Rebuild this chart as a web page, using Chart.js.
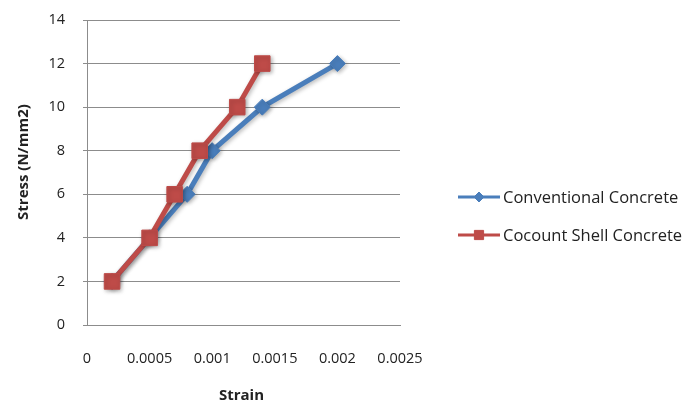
<!DOCTYPE html>
<html>
<head>
<meta charset="utf-8">
<script src="https://cdn.jsdelivr.net/npm/chart.js@4"></script>
<style>
  html, body { margin: 0; padding: 0; background: #ffffff; }
  #wrap { width: 691px; height: 405px; }
</style>
</head>
<body>
<div id="wrap"><canvas id="c" width="691" height="405"></canvas></div>
<script>
// Stress–strain data for the two concrete mixes
const seriesNames = ['Conventional Concrete', 'Cocount Shell Concrete'];
const conventionalStrain = [0.0002, 0.0005, 0.0008, 0.001, 0.0014, 0.002];
const conventionalStress = [2, 4, 6, 8, 10, 12];
const shellStrain = [0.0002, 0.0005, 0.0007, 0.0009, 0.0012, 0.0014];
const shellStress = [2, 4, 6, 8, 10, 12];
const xTicks = [0, 0.0005, 0.001, 0.0015, 0.002, 0.0025];
const yTicks = [0, 2, 4, 6, 8, 10, 12, 14];
const xTitle = 'Strain';
const yTitle = 'Stress (N/mm2)';

const BLUE = '#4a7ebb';
const RED = '#be4b48';
const FONT = '"Open Sans", Lato, sans-serif';

const toPoints = (xs, ys) => xs.map((x, i) => ({ x: x, y: ys[i] }));

// Soft drop shadow under lines and markers
const shadowPlugin = {
  id: 'markShadow',
  beforeDatasetsDraw(chart) {
    const ctx = chart.ctx;
    ctx.save();
    ctx.shadowColor = 'rgba(0,0,0,0.28)';
    ctx.shadowBlur = 4;
    ctx.shadowOffsetX = 1.5;
    ctx.shadowOffsetY = 1.5;
  },
  afterDatasetsDraw(chart) {
    chart.ctx.restore();
  }
};

// Axis titles and the legend on the right
const decorPlugin = {
  id: 'decor',
  afterDraw(chart) {
    const ctx = chart.ctx;
    const area = chart.chartArea;
    ctx.save();
    ctx.fillStyle = '#222';
    ctx.font = 'bold 15px ' + FONT;
    ctx.textAlign = 'center';
    ctx.textBaseline = 'middle';
    ctx.fillText(xTitle, (area.left + area.right) / 2 - 2, 396);
    ctx.translate(24, 162);
    ctx.rotate(-Math.PI / 2);
    ctx.fillText(yTitle, 0, 0);
    ctx.restore();

    // legend rows, in series order
    const rows = [197, 235];
    const legendDatasets = [chart.data.datasets[1], chart.data.datasets[0]];
    legendDatasets.forEach((ds, i) => {
      const y = rows[i];
      ctx.save();
      ctx.strokeStyle = ds.borderColor;
      ctx.lineWidth = 3;
      ctx.beginPath();
      ctx.moveTo(458, y);
      ctx.lineTo(500, y);
      ctx.stroke();
      ctx.fillStyle = ds.backgroundColor;
      ctx.strokeStyle = ds.borderColor;
      ctx.lineWidth = 1;
      Chart.helpers.drawPoint(ctx, {
        pointStyle: ds.pointStyle,
        radius: ds.pointStyle === 'rect' ? 6.5 : 5,
        rotation: 0,
        borderWidth: 1
      }, 479, y);
      ctx.fillStyle = '#222';
      ctx.font = '16.5px ' + FONT;
      ctx.textAlign = 'left';
      ctx.textBaseline = 'middle';
      ctx.fillText(ds.label, 503, y + 1);
      ctx.restore();
    });
  }
};

new Chart(document.getElementById('c'), {
  type: 'line',
  data: {
    datasets: [
      {
        label: seriesNames[1],
        data: toPoints(shellStrain, shellStress),
        borderColor: RED,
        backgroundColor: RED,
        borderWidth: 5,
        pointStyle: 'rect',
        pointRadius: 11,
        pointBorderWidth: 1,
        tension: 0,
        order: 0
      },
      {
        label: seriesNames[0],
        data: toPoints(conventionalStrain, conventionalStress),
        borderColor: BLUE,
        backgroundColor: BLUE,
        borderWidth: 5,
        pointStyle: 'rectRot',
        pointRadius: 8,
        pointBorderWidth: 1,
        tension: 0,
        order: 1
      }
    ]
  },
  options: {
    responsive: false,
    animation: false,
    layout: { autoPadding: false, padding: { left: 0, top: 20, right: 291, bottom: 0 } },
    plugins: {
      legend: { display: false },
      tooltip: { enabled: false }
    },
    scales: {
      x: {
        type: 'linear',
        min: 0,
        max: 0.0025,
        afterBuildTicks: (s) => { s.ticks = xTicks.map(v => ({ value: v })); },
        afterFit: (s) => { s.height = 80; },
        grid: { display: false, drawTicks: false },
        border: { display: true, color: '#8c8c8c', width: 1 },
        ticks: {
          padding: 25,
          color: '#222',
          font: { family: FONT, size: 14.5 },
          maxRotation: 0,
          callback: (v) => String(v)
        }
      },
      y: {
        type: 'linear',
        min: 0,
        max: 14,
        afterBuildTicks: (s) => { s.ticks = yTicks.map(v => ({ value: v })); },
        afterFit: (s) => { s.width = 87; s.paddingTop = 0; s.paddingBottom = 0; },
        grid: { color: '#8c8c8c', lineWidth: 1, drawTicks: true, tickLength: 4 },
        border: { display: true, color: '#8c8c8c', width: 1 },
        ticks: {
          padding: 18,
          color: '#222',
          font: { family: FONT, size: 14.5 },
          callback: (v) => String(v)
        }
      }
    }
  },
  plugins: [shadowPlugin, decorPlugin]
});
</script>
</body>
</html>
